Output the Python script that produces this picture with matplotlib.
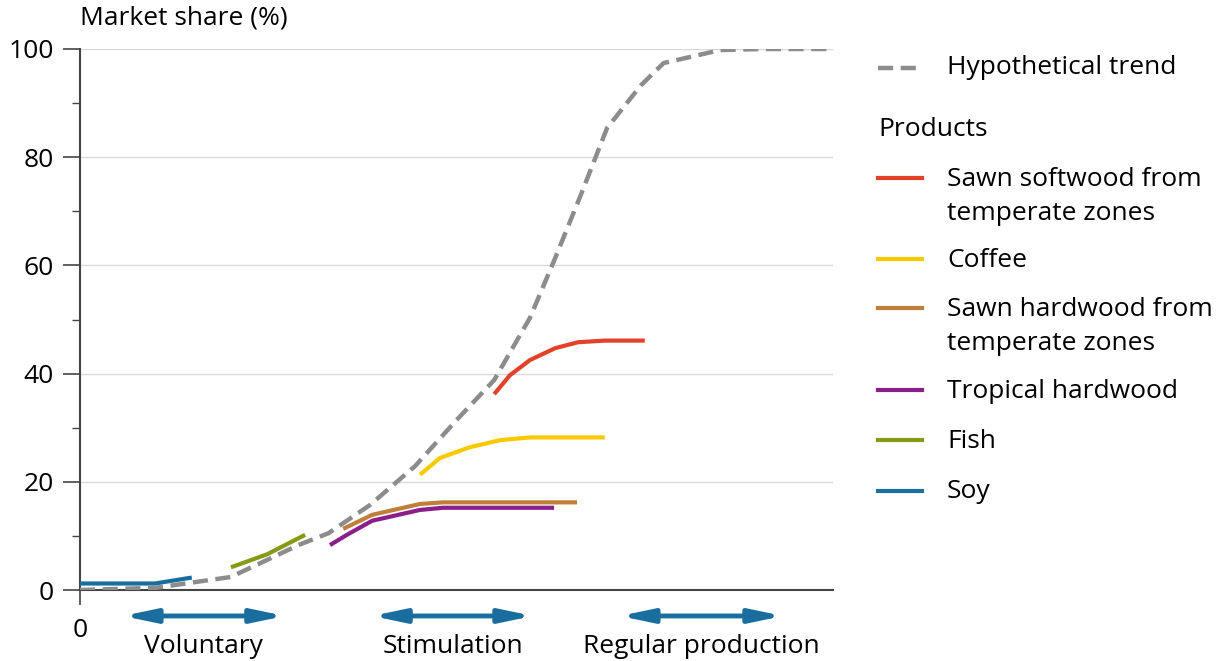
import matplotlib.pyplot as plt
from matplotlib.lines import Line2D

plt.rcParams['font.family'] = ['Open Sans', 'DejaVu Sans']

# hypothetical adoption curve (x in arbitrary time units)
trend_x = [0, 2.0, 2.9, 4.0, 4.8, 5.8, 6.6, 7.7, 8.9, 10.0, 11.0, 11.95, 12.6, 13.3, 14.0, 14.9, 15.5, 17.0, 18.1, 20.0]
trend_y = [0, 0.4, 1.3, 2.4, 5.0, 8.3, 10.5, 15.7, 22.9, 31.4, 38.8, 50.3, 61, 73, 85.4, 93.3, 97.4, 99.8, 100, 100]

softwood_x = [11.0, 11.42, 11.95, 12.62, 13.23, 13.94, 15.0]
softwood_y = [36.2, 39.7, 42.5, 44.7, 45.8, 46.1, 46.1]
coffee_x = [9.03, 9.56, 10.36, 11.16, 11.95, 13.94]
coffee_y = [21.3, 24.4, 26.4, 27.7, 28.2, 28.2]
hardwood_x = [6.99, 7.76, 9.03, 9.64, 13.2]
hardwood_y = [11.3, 13.9, 15.9, 16.2, 16.2]
tropical_x = [6.64, 7.09, 7.76, 9.03, 9.64, 12.59]
tropical_y = [8.3, 10.2, 12.8, 14.8, 15.2, 15.2]
fish_x = [4.01, 4.97, 5.98]
fish_y = [4.2, 6.6, 10.2]
soy_x = [0, 1.99, 2.97]
soy_y = [1.2, 1.2, 2.3]

phases = ['Voluntary', 'Stimulation', 'Regular production']
phase_start = [1.14, 7.76, 14.34]
phase_end = [5.44, 12.03, 18.67]

products = [
    ('Sawn softwood from\ntemperate zones', softwood_x, softwood_y, '#e2412a'),
    ('Coffee', coffee_x, coffee_y, '#f9c900'),
    ('Sawn hardwood from\ntemperate zones', hardwood_x, hardwood_y, '#c07f38'),
    ('Tropical hardwood', tropical_x, tropical_y, '#8a1f8c'),
    ('Fish', fish_x, fish_y, '#869a17'),
    ('Soy', soy_x, soy_y, '#1a6e9f'),
]
trend_color = '#8c8c8c'
arrow_color = '#1a6e9f'
fs = 19

fig = plt.figure(figsize=(12.17, 6.61), dpi=100)
ax = fig.add_axes([80/1217, 71/661, 753/1217, 541/661])

for label, xs, ys, c in products:
    ax.plot(xs, ys, color=c, lw=3, solid_capstyle='butt', zorder=3)
ax.plot(trend_x, trend_y, color=trend_color, lw=3.2, dashes=(3.4, 1.7), zorder=4)

ax.set_xlim(0, 20)
ax.set_ylim(0, 100)
ax.set_yticks([0, 20, 40, 60, 80, 100])
ax.set_yticks([10, 30, 50, 70, 90], minor=True)
ax.set_xticks([0])
ax.tick_params(axis='y', which='major', length=12, width=1.2, color='#444444', labelsize=fs, pad=7)
ax.tick_params(axis='x', which='major', length=11, width=1.2, color='#444444', labelsize=fs, pad=9)
ax.tick_params(axis='y', which='minor', length=6, width=1, color='#444444')
ax.grid(axis='y', color='#d9d9d9', lw=1)
ax.set_axisbelow(True)
for s in ['top', 'right']:
    ax.spines[s].set_visible(False)
for s in ['left', 'bottom']:
    ax.spines[s].set_color('#444444')
    ax.spines[s].set_linewidth(1.5)

ax.text(0, 103.5, 'Market share (%)', fontsize=fs, ha='left', va='bottom')

# phase arrows below the axis
for name, a, b in zip(phases, phase_start, phase_end):
    ax.annotate('', xy=(b, -4.8), xytext=(a, -4.8), annotation_clip=False,
                arrowprops=dict(arrowstyle='<|-|>,head_length=1.9,head_width=0.4',
                                color=arrow_color, lw=3.5, shrinkA=0, shrinkB=0))
    ax.text((a + b) / 2, -10.5, name, fontsize=fs, ha='center', va='center', clip_on=False)

# legend
def fy(p):
    return 1 - p / 661

lx0, lx1, tx = 878/1217, 922/1217, 947/1217
fig.add_artist(Line2D([lx0, lx1], [fy(68), fy(68)], color=trend_color, lw=3.2, dashes=(3.4, 1.7)))
fig.text(tx, fy(68), 'Hypothetical trend', fontsize=fs, va='center')
fig.text(lx0, fy(130), 'Products', fontsize=fs, va='center')
rows = [178, 259, 308, 390, 440, 491]
for (label, xs, ys, c), r in zip(products, rows):
    fig.add_artist(Line2D([lx0, lx1], [fy(r), fy(r)], color=c, lw=3))
    for i, part in enumerate(label.split('\n')):
        fig.text(tx, fy(r + 1 + i * 34), part, fontsize=fs, va='center')

fig.savefig('out.png', dpi=100)
